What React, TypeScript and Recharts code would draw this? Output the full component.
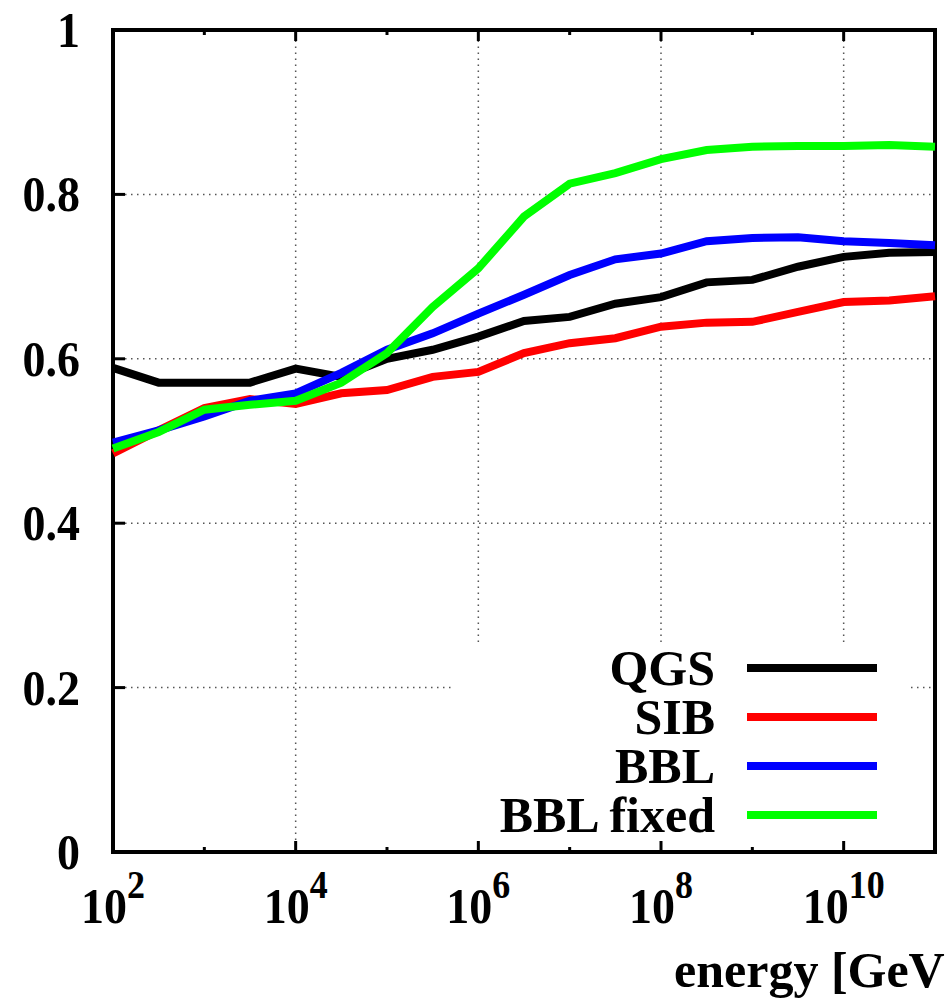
import React from 'react';
import { LineChart, Line, XAxis, YAxis, ReferenceLine, ReferenceArea, Legend } from 'recharts';

// energy points (log10 of GeV), half-decade steps
const logEnergy = [2, 2.5, 3, 3.5, 4, 4.5, 5, 5.5, 6, 6.5, 7, 7.5, 8, 8.5, 9, 9.5, 10, 10.5, 11];

const qgs = [0.589, 0.571, 0.571, 0.571, 0.588, 0.578, 0.6, 0.611, 0.627, 0.646, 0.651, 0.667, 0.675, 0.693, 0.696, 0.712, 0.724, 0.729, 0.73];
const sib = [0.485, 0.513, 0.54, 0.551, 0.545, 0.558, 0.562, 0.578, 0.584, 0.607, 0.619, 0.625, 0.639, 0.644, 0.645, 0.657, 0.669, 0.671, 0.676];
const bbl = [0.498, 0.513, 0.53, 0.549, 0.558, 0.583, 0.611, 0.631, 0.655, 0.678, 0.702, 0.721, 0.728, 0.743, 0.747, 0.748, 0.743, 0.741, 0.738];
const bblFixed = [0.491, 0.511, 0.538, 0.544, 0.549, 0.571, 0.607, 0.663, 0.71, 0.773, 0.813, 0.826, 0.843, 0.854, 0.858, 0.859, 0.859, 0.86, 0.858];

const seriesNames = ['QGS', 'SIB', 'BBL', 'BBL fixed'];

const xTickExp = [2, 3, 4, 5, 6, 7, 8, 9, 10, 11];
const xGridExp = [4, 6, 8, 10];
const yTicks = [0, 0.2, 0.4, 0.6, 0.8, 1];
const yGrid = [0.2, 0.4, 0.6, 0.8];

const data = logEnergy.map((le, i) => ({
  e: Math.pow(10, le),
  qgs: qgs[i],
  sib: sib[i],
  bbl: bbl[i],
  bblFixed: bblFixed[i],
}));

const xTicks = xTickExp.map((k) => Math.pow(10, k));
const X_DOMAIN = [1e2, 1e11];

const FONT = '"Liberation Serif", "Times New Roman", serif';
const STRETCH = 'scale(1,1.12)';

const BottomTick = (props: any) => {
  const { x, y, payload } = props;
  const exp = Math.round(Math.log10(payload.value));
  const major = exp % 2 === 0;
  return (
    <g>
      <line x1={x} y1={y} x2={x} y2={y - (major ? 11 : 5)} stroke="#000" strokeWidth={3} />
      {major && exp < 11 && (
        <g transform={`translate(${x},${y + 71}) ${STRETCH}`}>
          <text textAnchor="middle" fontFamily={FONT} fontWeight="bold" fontSize={46} fill="#000">
            10
            <tspan fontSize={36} dy={-22}>{exp}</tspan>
          </text>
        </g>
      )}
    </g>
  );
};

const TopTick = (props: any) => {
  const { x, y, payload } = props;
  const exp = Math.round(Math.log10(payload.value));
  return <line x1={x} y1={y} x2={x} y2={y + (exp % 2 === 0 ? 11 : 5)} stroke="#000" strokeWidth={3} />;
};

const LeftTick = (props: any) => {
  const { x, y, payload } = props;
  return (
    <g>
      <line x1={x} y1={y} x2={x + 12} y2={y} stroke="#000" strokeWidth={3} />
      <g transform={`translate(${x - 33},${y + 17}) ${STRETCH}`}>
        <text textAnchor="end" fontFamily={FONT} fontWeight="bold" fontSize={46} fill="#000">
          {String(payload.value)}
        </text>
      </g>
    </g>
  );
};

const RightTick = (props: any) => {
  const { x, y } = props;
  return <line x1={x} y1={y} x2={x - 12} y2={y} stroke="#000" strokeWidth={3} />;
};

const EnergyLabel = (props: any) => {
  const vb = props.viewBox || { x: 0, y: 0, width: 0 };
  return (
    <text x={vb.x + vb.width - 261} y={vb.y + 135} fontFamily={FONT} fontWeight="bold" fontSize={50} fill="#000">
      energy [GeV]
    </text>
  );
};

const LegendBox = ({ payload }: any) => {
  const items = [...(payload || [])].sort(
    (a: any, b: any) => seriesNames.indexOf(a.value) - seriesNames.indexOf(b.value)
  );
  return (
    <svg width={455} height={197} style={{ display: 'block', background: '#fff' }}>
      {items.map((p: any, i: number) => {
        const cy = 25 + i * 49;
        return (
          <g key={p.value}>
            <text x={263} y={cy + 17} textAnchor="end" fontFamily={FONT} fontWeight="bold" fontSize={50} fill="#000">
              {p.value}
            </text>
            <line x1={295} x2={425} y1={cy} y2={cy} stroke={p.color} strokeWidth={8} />
          </g>
        );
      })}
    </svg>
  );
};

const gridStyle = { stroke: '#555', strokeWidth: 1.5, strokeDasharray: '1.5 4.5' };

const axisCommon = {
  axisLine: false,
  tickLine: false,
  tickSize: 0,
  tickMargin: 0,
  interval: 0 as const,
};

export default function App() {
  return (
    <div style={{ position: 'absolute', left: 0, top: 0, width: 946, height: 1002, background: '#fff' }}>
      <LineChart width={946} height={1002} data={data} margin={{ top: 29, right: 10, bottom: 149, left: 112 }}>
        <XAxis
          dataKey="e"
          type="number"
          scale="log"
          domain={X_DOMAIN}
          ticks={xTicks}
          height={1}
          {...axisCommon}
          tick={<BottomTick />}
          label={<EnergyLabel />}
        />
        <XAxis
          xAxisId="top"
          orientation="top"
          dataKey="e"
          type="number"
          scale="log"
          domain={X_DOMAIN}
          ticks={xTicks}
          height={1}
          {...axisCommon}
          tick={<TopTick />}
        />
        <YAxis type="number" domain={[0, 1]} ticks={yTicks} width={1} {...axisCommon} tick={<LeftTick />} />
        <YAxis
          yAxisId="right"
          orientation="right"
          type="number"
          domain={[0, 1]}
          ticks={yTicks}
          width={1}
          {...axisCommon}
          tick={<RightTick />}
        />
        {xGridExp.map((k) => (
          <ReferenceLine key={`gx${k}`} x={Math.pow(10, k)} {...gridStyle} />
        ))}
        {yGrid.map((v) => (
          <ReferenceLine key={`gy${v}`} y={v} {...gridStyle} />
        ))}
        <Line name="QGS" dataKey="qgs" stroke="#000000" strokeWidth={8} dot={false} isAnimationActive={false} />
        <Line name="SIB" dataKey="sib" stroke="#ff0000" strokeWidth={8} dot={false} isAnimationActive={false} />
        <Line name="BBL" dataKey="bbl" stroke="#0000ff" strokeWidth={8} dot={false} isAnimationActive={false} />
        <Line name="BBL fixed" dataKey="bblFixed" stroke="#00ff00" strokeWidth={8} dot={false} isAnimationActive={false} />
        <ReferenceArea x1={X_DOMAIN[0]} x2={X_DOMAIN[1]} y1={0} y2={1} fill="none" fillOpacity={0} stroke="#000" strokeWidth={4} />
        <Legend
          layout="vertical"
          align="center"
          verticalAlign="middle"
          content={<LegendBox />}
          wrapperStyle={{ position: 'absolute', left: 452, top: 643, width: 455, height: 197 }}
        />
      </LineChart>
    </div>
  );
}
